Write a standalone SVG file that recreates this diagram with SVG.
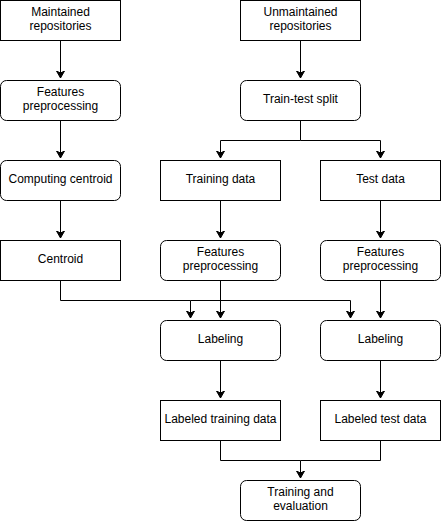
<svg xmlns="http://www.w3.org/2000/svg" width="441" height="522" viewBox="0 0 441 522">
<style>
.b{fill:#fff;stroke:#000;stroke-width:1}
.t{font-family:"Liberation Sans",Arial,sans-serif;font-size:12px;fill:#000;text-anchor:middle}
.c{fill:none;stroke:#000;stroke-width:1}
</style>
<defs>
<marker id="a" markerWidth="10" markerHeight="10" refX="7" refY="4" orient="auto" markerUnits="userSpaceOnUse">
<path d="M0,0 L7,4 L0,8 L2,4 Z" fill="#000" stroke="#000" stroke-width="1"/>
</marker>
</defs>
<rect width="441" height="522" fill="#fff"/>
<g id="connectors">
<path class="c" d="M60.5,40.5 V78" marker-end="url(#a)"/>
<path class="c" d="M60.5,120.5 V158" marker-end="url(#a)"/>
<path class="c" d="M60.5,200.5 V238" marker-end="url(#a)"/>
<path class="c" d="M300.5,40.5 V78" marker-end="url(#a)"/>
<path class="c" d="M300.5,120.5 V140.5 H220.5 V158" marker-end="url(#a)"/>
<path class="c" d="M300.5,140.5 H380.5 V158" marker-end="url(#a)"/>
<path class="c" d="M220.5,200.5 V238" marker-end="url(#a)"/>
<path class="c" d="M380.5,200.5 V238" marker-end="url(#a)"/>
<path class="c" d="M60.5,280.5 V300.5 H190.5 V318" marker-end="url(#a)"/>
<path class="c" d="M190.5,300.5 H350.5 V318" marker-end="url(#a)"/>
<path class="c" d="M220.5,280.5 V318" marker-end="url(#a)"/>
<path class="c" d="M380.5,280.5 V318" marker-end="url(#a)"/>
<path class="c" d="M220.5,360.5 V398" marker-end="url(#a)"/>
<path class="c" d="M380.5,360.5 V398" marker-end="url(#a)"/>
<path class="c" d="M220.5,440.5 V460.5 H300.5 V478" marker-end="url(#a)"/>
<path class="c" d="M380.5,440.5 V460.5 H300.5"/>
</g>
<g id="maintained"><rect class="b" x="0.5" y="0.5" width="120" height="40"/><text class="t" x="60.5" y="16">Maintained</text><text class="t" x="60.5" y="30">repositories</text></g>
<g id="unmaintained"><rect class="b" x="240.5" y="0.5" width="120" height="40"/><text class="t" x="300.5" y="16">Unmaintained</text><text class="t" x="300.5" y="30">repositories</text></g>
<g id="fp1"><rect class="b" x="0.5" y="80.5" width="120" height="40" rx="6"/><text class="t" x="60.5" y="96">Features</text><text class="t" x="60.5" y="110">preprocessing</text></g>
<g id="split"><rect class="b" x="240.5" y="80.5" width="120" height="40" rx="6"/><text class="t" x="300.5" y="103">Train-test split</text></g>
<g id="centroidcomp"><rect class="b" x="0.5" y="160.5" width="120" height="40" rx="6"/><text class="t" x="60.5" y="183">Computing centroid</text></g>
<g id="training"><rect class="b" x="160.5" y="160.5" width="120" height="40"/><text class="t" x="220.5" y="183">Training data</text></g>
<g id="test"><rect class="b" x="320.5" y="160.5" width="120" height="40"/><text class="t" x="380.5" y="183">Test data</text></g>
<g id="centroid"><rect class="b" x="0.5" y="240.5" width="120" height="40"/><text class="t" x="60.5" y="263">Centroid</text></g>
<g id="fp2"><rect class="b" x="160.5" y="240.5" width="120" height="40" rx="6"/><text class="t" x="220.5" y="256">Features</text><text class="t" x="220.5" y="270">preprocessing</text></g>
<g id="fp3"><rect class="b" x="320.5" y="240.5" width="120" height="40" rx="6"/><text class="t" x="380.5" y="256">Features</text><text class="t" x="380.5" y="270">preprocessing</text></g>
<g id="label1"><rect class="b" x="160.5" y="320.5" width="120" height="40" rx="6"/><text class="t" x="220.5" y="343">Labeling</text></g>
<g id="label2"><rect class="b" x="320.5" y="320.5" width="120" height="40" rx="6"/><text class="t" x="380.5" y="343">Labeling</text></g>
<g id="ltrain"><rect class="b" x="160.5" y="400.5" width="120" height="40"/><text class="t" x="220.5" y="423">Labeled training data</text></g>
<g id="ltest"><rect class="b" x="320.5" y="400.5" width="120" height="40"/><text class="t" x="380.5" y="423">Labeled test data</text></g>
<g id="eval"><rect class="b" x="240.5" y="480.5" width="120" height="40" rx="6"/><text class="t" x="300.5" y="496">Training and</text><text class="t" x="300.5" y="510">evaluation</text></g>
</svg>
